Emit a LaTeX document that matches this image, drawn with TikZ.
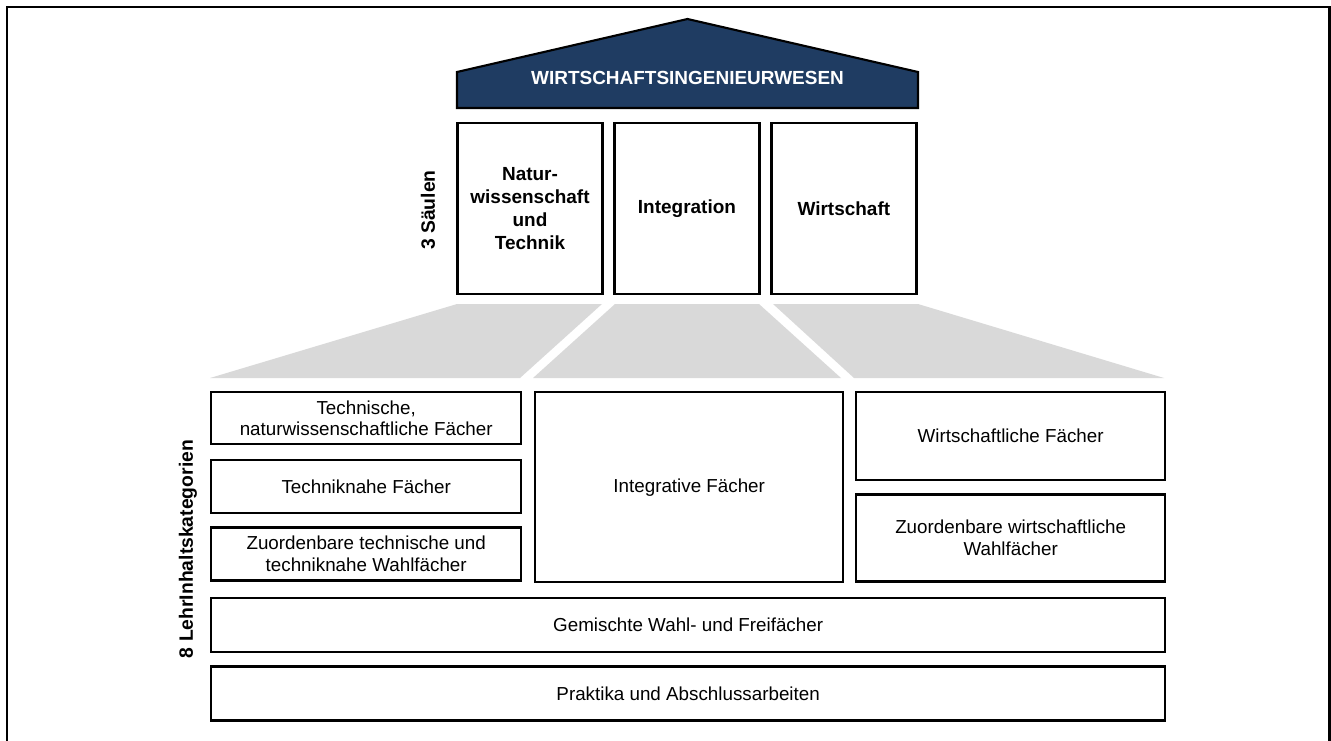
\documentclass[tikz,border=0pt]{standalone}
\usepackage{fontspec}
\setmainfont{Liberation Sans}
\usepackage{tikz}
\usetikzlibrary{positioning}
\definecolor{roofblue}{RGB}{31,60,98}
\definecolor{fangray}{RGB}{217,217,217}
\tikzset{
  pillar/.style={draw, line width=1.4pt, minimum width=2.9cm, minimum height=3.42cm,
    align=center, font=\fontsize{10.8}{13}\selectfont\bfseries},
  catbox/.style={draw, line width=1.4pt, minimum width=6.2cm, inner sep=0pt,
    align=center, font=\fontsize{10.7}{12.4}\selectfont},
  sidelabel/.style={rotate=90, font=\fontsize{11}{13}\selectfont\bfseries}
}

\begin{document}
\begin{tikzpicture}[x=0.02cm, y=-0.02cm]
			\useasboundingbox (0,0) rectangle (1331,740);
			\draw[line width=1.7pt] (7,746) -- (7,7) -- (1329,7) -- (1329,746);

			\draw[line width=1.2pt, fill=roofblue] (457,108) -- (457,72) -- (687.5,19) -- (918,72) -- (918,108) -- cycle;
			\node[text=white, font=\fontsize{10.8}{13}\selectfont\bfseries] (title) at (687.5,78) {WIRTSCHAFTSINGENIEURWESEN};

			\node[pillar] (natur) at (530,208.5) {Natur-\\wissenschaft\\und\\Technik};
			\node[pillar, right=0.19cm of natur] (integ) {Integration};
			\node[pillar, right=0.19cm of integ] (wirt) {Wirtschaft};
			\node[sidelabel] (saeulen) at (428,210) {3 Säulen};

			\fill[fangray] (457,304) -- (602,304) -- (520,378) -- (210,378) -- cycle;
			\fill[fangray] (615,304) -- (759,304) -- (841,378) -- (533,378) -- cycle;
			\fill[fangray] (773,304) -- (918,304) -- (1164,378) -- (854,378) -- cycle;

			\node[catbox, minimum height=1.04cm, anchor=north west] (technat) at (210,391) {Technische,\\naturwissenschaftliche Fächer};
			\node[catbox, minimum height=1.06cm, below=0.27cm of technat] (technah) {Techniknahe Fächer};
			\node[catbox, minimum height=1.06cm, below=0.24cm of technah] (techwahl) {Zuordenbare technische und\\techniknahe Wahlfächer};
			\node[catbox, minimum width=6.16cm, minimum height=3.8cm, anchor=north west] (integf) at (534,391) {Integrative Fächer};
			\node[catbox, minimum width=6.18cm, minimum height=1.76cm, anchor=north west] (wirtf) at (855,391) {Wirtschaftliche Fächer};
			\node[catbox, minimum width=6.18cm, minimum height=1.74cm, below=0.24cm of wirtf] (wirtwahl) {Zuordenbare wirtschaftliche\\Wahlfächer};

			\node[catbox, minimum width=19.08cm, minimum height=1.08cm, anchor=north west] (gemischt) at (210,597) {Gemischte Wahl- und Freifächer};
			\node[catbox, minimum width=19.08cm, minimum height=1.08cm, below=0.24cm of gemischt] (praktika) {Praktika und Abschlussarbeiten};
			\node[sidelabel] (kategorien) at (188,549) {8 LehrInhaltskategorien};
		\end{tikzpicture}
\end{document}
